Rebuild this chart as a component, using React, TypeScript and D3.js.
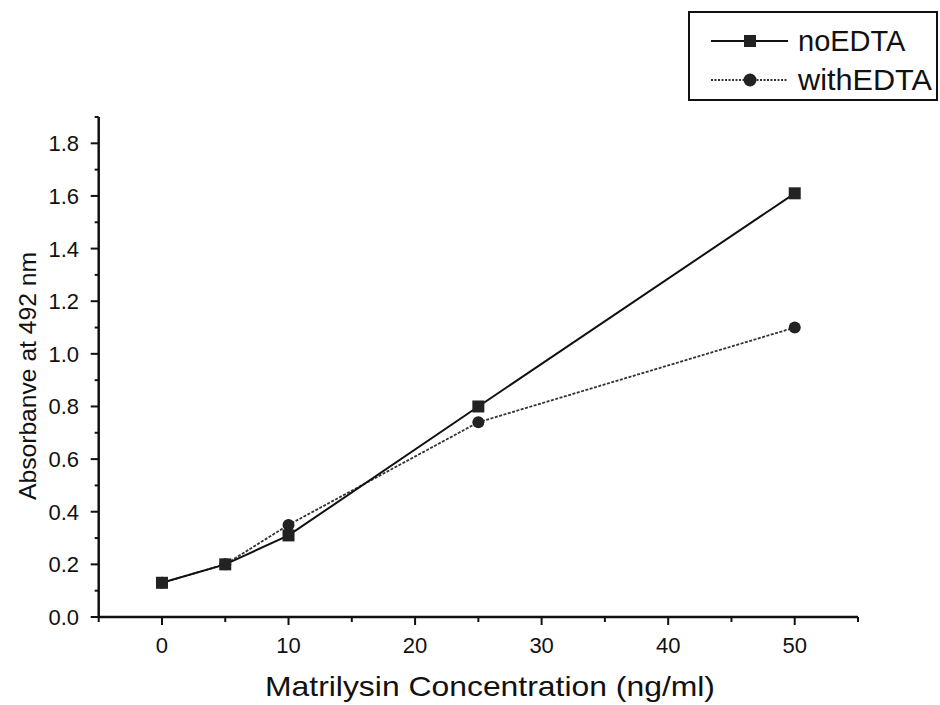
import React from "react";
import * as d3 from "d3";

const concentrations = [0, 5, 10, 25, 50];
const noEDTA = [0.13, 0.2, 0.31, 0.8, 1.61];
const withEDTA = [0.13, 0.2, 0.35, 0.74, 1.1];
const xMajorTicks = [0, 10, 20, 30, 40, 50];
const xMinorTicks = [-5, 5, 15, 25, 35, 45, 55];
const yMajorTicks = [0, 0.2, 0.4, 0.6, 0.8, 1.0, 1.2, 1.4, 1.6, 1.8];
const yMinorTicks = [0.1, 0.3, 0.5, 0.7, 0.9, 1.1, 1.3, 1.5, 1.7, 1.9];
const seriesNames = ["noEDTA", "withEDTA"];

const W = 940;
const H = 705;
const FONT = "'Liberation Sans', Arial, Helvetica, sans-serif";

export default function App() {
  const x = d3.scaleLinear().domain([-5, 55]).range([98.7, 858]);
  const y = d3.scaleLinear().domain([0, 1.9]).range([617, 117]);
  const line = d3
    .line<number>()
    .x((_, i) => x(concentrations[i]))
    .y((d) => y(d));

  return (
    <svg
      width={W}
      height={H}
      style={{ position: "absolute", left: 0, top: 0, background: "#fff" }}
      fontFamily={FONT}
    >
      {/* axes */}
      <line x1={x(-5)} x2={x(55)} y1={y(0)} y2={y(0)} stroke="#111" strokeWidth={2.5} />
      <line x1={x(-5)} x2={x(-5)} y1={y(0) + 1} y2={y(1.9)} stroke="#111" strokeWidth={2.5} />
      {xMajorTicks.map((t) => (
        <g key={"xm" + t}>
          <line x1={x(t)} x2={x(t)} y1={y(0)} y2={y(0) + 8} stroke="#111" strokeWidth={2} />
          <text x={x(t)} y={653} textAnchor="middle" fontSize={22} fill="#111">
            {t}
          </text>
        </g>
      ))}
      {xMinorTicks.map((t) => (
        <line key={"xn" + t} x1={x(t)} x2={x(t)} y1={y(0)} y2={y(0) + 5} stroke="#111" strokeWidth={2} />
      ))}
      {yMajorTicks.map((t) => (
        <g key={"ym" + t}>
          <line x1={x(-5) - 8} x2={x(-5)} y1={y(t)} y2={y(t)} stroke="#111" strokeWidth={2} />
          <text x={79} y={y(t) + 8} textAnchor="end" fontSize={22} fill="#111">
            {t.toFixed(1)}
          </text>
        </g>
      ))}
      {yMinorTicks.map((t) => (
        <line key={"yn" + t} x1={x(-5) - 4} x2={x(-5)} y1={y(t)} y2={y(t)} stroke="#111" strokeWidth={2} />
      ))}
      <text
        x={490}
        y={696}
        textAnchor="middle"
        fontSize={28}
        fill="#111"
        textLength={450}
        lengthAdjust="spacingAndGlyphs"
      >
        Matrilysin Concentration (ng/ml)
      </text>
      <text
        transform={`translate(36, 376) rotate(-90)`}
        textAnchor="middle"
        fontSize={24}
        fill="#111"
        textLength={248}
        lengthAdjust="spacingAndGlyphs"
      >
        Absorbanve at 492 nm
      </text>

      {/* series */}
      <path d={line(withEDTA) ?? ""} fill="none" stroke="#333" strokeWidth={1.8} strokeDasharray="3,1.5" />
      <path d={line(noEDTA) ?? ""} fill="none" stroke="#111" strokeWidth={2} />
      {withEDTA.map((v, i) => (
        <circle key={"c" + i} cx={x(concentrations[i])} cy={y(v)} r={6} fill="#222" />
      ))}
      {noEDTA.map((v, i) => (
        <rect key={"s" + i} x={x(concentrations[i]) - 6} y={y(v) - 6} width={12} height={12} fill="#222" />
      ))}

      {/* legend */}
      <rect x={689} y={12} width={248} height={88} fill="#fff" stroke="#111" strokeWidth={2} />
      <line x1={711} x2={788} y1={41} y2={41} stroke="#111" strokeWidth={2} />
      <rect x={744} y={35} width={12} height={12} fill="#222" />
      <text x={798} y={51} fontSize={29} fill="#111">{seriesNames[0]}</text>
      <line x1={711} x2={788} y1={80} y2={80} stroke="#333" strokeWidth={1.8} strokeDasharray="2,1.5" />
      <circle cx={750} cy={80} r={6.5} fill="#222" />
      <text x={798} y={90} fontSize={29} fill="#111" textLength={134} lengthAdjust="spacingAndGlyphs">{seriesNames[1]}</text>
    </svg>
  );
}
